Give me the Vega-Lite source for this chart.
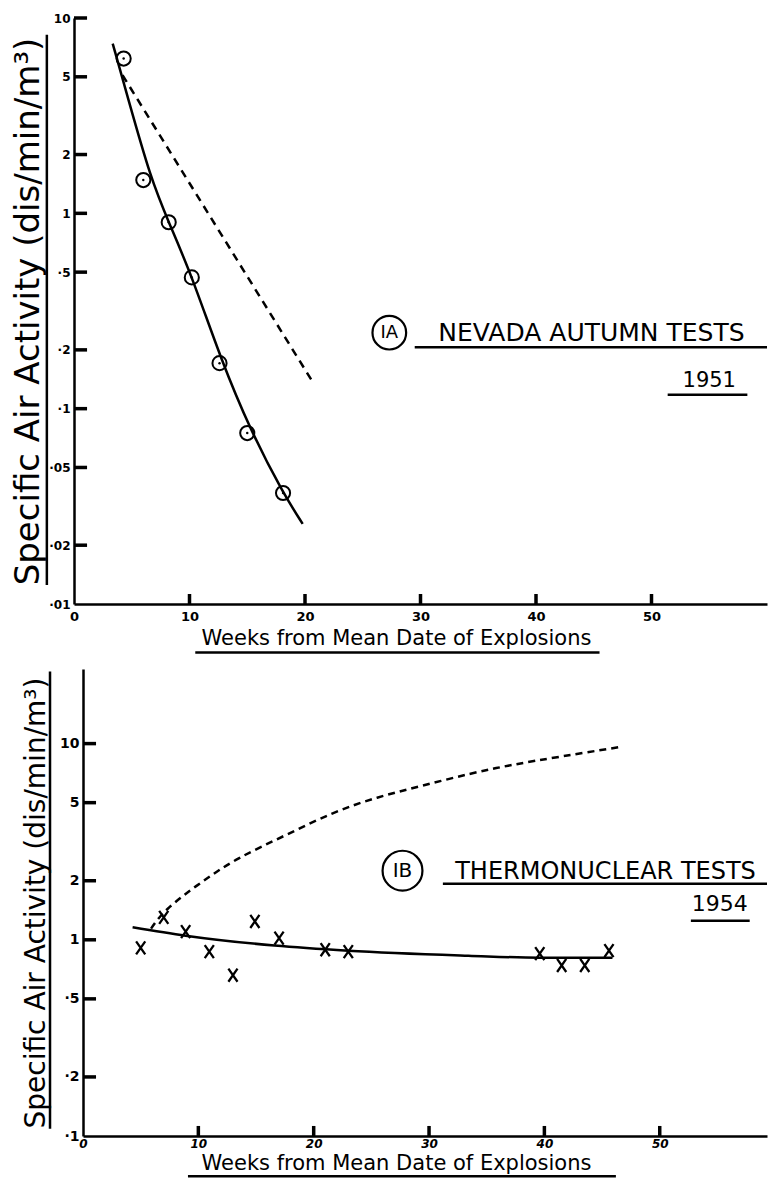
{
  "$schema": "https://vega.github.io/schema/vega-lite/v6.json",
  "background": "white",
  "padding": {"left": 11, "top": 12, "right": 0, "bottom": 0},
  "spacing": 15,
  "config": {
    "font": "DejaVu Sans",
    "view": {"stroke": null},
    "axis": {
      "grid": false,
      "ticks": false,
      "domainColor": "black",
      "domainWidth": 2.5,
      "labelColor": "black",
      "titleColor": "black",
      "labelFont": "DejaVu Sans",
      "titleFont": "DejaVu Sans",
      "labelFontWeight": "bold",
      "titleFontWeight": "normal",
      "labelFontSize": 12
    }
  },
  "datasets": {
    "fallout1951": [
      {"week": 4.3, "activity": 6.2},
      {"week": 6.0, "activity": 1.48},
      {"week": 8.2, "activity": 0.9},
      {"week": 10.2, "activity": 0.47},
      {"week": 12.6, "activity": 0.171},
      {"week": 15.0, "activity": 0.075},
      {"week": 18.1, "activity": 0.037}
    ],
    "fit1951": [
      {"week": 3.35, "activity": 7.4},
      {"week": 4.64, "activity": 3.95},
      {"week": 6.65, "activity": 1.5},
      {"week": 8.2, "activity": 0.9},
      {"week": 10.2, "activity": 0.48},
      {"week": 12.7, "activity": 0.18},
      {"week": 15.3, "activity": 0.077},
      {"week": 18.1, "activity": 0.037},
      {"week": 19.8, "activity": 0.0257}
    ],
    "decay1951": [
      {"week": 4.2, "activity": 5.1},
      {"week": 20.6, "activity": 0.139}
    ],
    "fallout1954": [
      {"week": 5.0, "activity": 0.91},
      {"week": 7.0, "activity": 1.3},
      {"week": 8.9, "activity": 1.1},
      {"week": 10.95, "activity": 0.87},
      {"week": 13.0, "activity": 0.66},
      {"week": 14.9, "activity": 1.24},
      {"week": 17.0, "activity": 1.02},
      {"week": 21.0, "activity": 0.89},
      {"week": 23.0, "activity": 0.87},
      {"week": 39.6, "activity": 0.85},
      {"week": 41.5, "activity": 0.74},
      {"week": 43.5, "activity": 0.74},
      {"week": 45.6, "activity": 0.88}
    ],
    "fit1954": [
      {"week": 4.3, "activity": 1.16},
      {"week": 8.9, "activity": 1.05},
      {"week": 16.6, "activity": 0.935},
      {"week": 23.0, "activity": 0.88},
      {"week": 33.4, "activity": 0.83},
      {"week": 39.6, "activity": 0.81},
      {"week": 45.9, "activity": 0.81}
    ],
    "expected1954": [
      {"week": 5.9, "activity": 1.14},
      {"week": 7.35, "activity": 1.44},
      {"week": 10.2, "activity": 1.95},
      {"week": 13.5, "activity": 2.6},
      {"week": 17.5, "activity": 3.4},
      {"week": 21.6, "activity": 4.4},
      {"week": 25.5, "activity": 5.3},
      {"week": 29.4, "activity": 6.1},
      {"week": 33.5, "activity": 7.0},
      {"week": 37.3, "activity": 7.8},
      {"week": 41.5, "activity": 8.6},
      {"week": 46.5, "activity": 9.6}
    ],
    "weekTicks": [
      {"week": 10}, {"week": 20}, {"week": 30}, {"week": 40}, {"week": 50}
    ],
    "activityTicks1951": [
      {"activity": 0.02}, {"activity": 0.05}, {"activity": 0.1}, {"activity": 0.2},
      {"activity": 0.5}, {"activity": 1}, {"activity": 2}, {"activity": 5}, {"activity": 10}
    ],
    "activityTicks1954": [
      {"activity": 0.2}, {"activity": 0.5}, {"activity": 1}, {"activity": 2},
      {"activity": 5}, {"activity": 10}
    ]
  },
  "vconcat": [
    {
      "width": 693,
      "height": 586,
      "layer": [
        {
          "data": {"name": "decay1951"},
          "mark": {"type": "line", "color": "black", "strokeWidth": 2.5, "strokeDash": [8, 6]},
          "encoding": {
            "x": {
              "field": "week", "type": "quantitative",
              "scale": {"domain": [0, 60], "nice": false, "zero": false},
              "axis": {
                "values": [0, 10, 20, 30, 40, 50],
                "labelPadding": 6,
                "labelFlush": false,
                "labelFontSize": 13,
                "title": "Weeks from Mean Date of Explosions",
                "titleFontSize": 21,
                "titleX": 322,
                "titleY": 23,
                "titleBaseline": "top"
              }
            },
            "y": {
              "field": "activity", "type": "quantitative",
              "scale": {"type": "log", "domain": [0.01, 10], "nice": false},
              "axis": {
                "values": [0.01, 0.02, 0.05, 0.1, 0.2, 0.5, 1, 2, 5, 10],
                "labelExpr": "datum.value >= 1 ? format(datum.value, 'd') : replace(format(datum.value, '.2~f'), '0.', '·')",
                "labelPadding": 4,
                "labelFlush": false,
                "labelOverlap": false,
                "title": "Specific Air Activity (dis/min/m³)",
                "titleFontSize": 34,
                "titlePadding": 3
              }
            }
          }
        },
        {
          "data": {"name": "weekTicks"},
          "mark": {"type": "rule", "color": "black", "strokeWidth": 3.5},
          "encoding": {
            "x": {"field": "week", "type": "quantitative"},
            "y": {"datum": 0.01},
            "y2": {"datum": 0.01125}
          }
        },
        {
          "data": {"name": "activityTicks1951"},
          "mark": {"type": "rule", "color": "black", "strokeWidth": 3.5},
          "encoding": {
            "y": {"field": "activity", "type": "quantitative"},
            "x": {"datum": 0},
            "x2": {"datum": 1.13}
          }
        },
        {
          "data": {"name": "fit1951"},
          "mark": {"type": "line", "color": "black", "strokeWidth": 2.5, "interpolate": "basis"},
          "encoding": {
            "x": {"field": "week", "type": "quantitative"},
            "y": {"field": "activity", "type": "quantitative"}
          }
        },
        {
          "data": {"name": "fallout1951"},
          "mark": {"type": "point", "shape": "circle", "size": 200, "filled": false, "color": "black", "strokeWidth": 2, "opacity": 1},
          "encoding": {
            "x": {"field": "week", "type": "quantitative"},
            "y": {"field": "activity", "type": "quantitative"}
          }
        },
        {
          "data": {"name": "fallout1951"},
          "mark": {"type": "point", "shape": "circle", "size": 6, "filled": true, "color": "black", "opacity": 1},
          "encoding": {
            "x": {"field": "week", "type": "quantitative"},
            "y": {"field": "activity", "type": "quantitative"}
          }
        },
        {
          "data": {"values": [{}]},
          "mark": {"type": "point", "shape": "circle", "size": 1134, "filled": false, "color": "black", "strokeWidth": 2.2, "opacity": 1},
          "encoding": {"x": {"datum": 27.3}, "y": {"datum": 0.245}}
        },
        {
          "data": {"values": [{}]},
          "mark": {"type": "text", "text": "IA", "fontSize": 18, "color": "black", "align": "center", "baseline": "middle"},
          "encoding": {"x": {"datum": 27.3}, "y": {"datum": 0.245}}
        },
        {
          "data": {"values": [{}]},
          "mark": {"type": "text", "text": "NEVADA AUTUMN TESTS", "fontSize": 25, "color": "black", "align": "center", "baseline": "middle"},
          "encoding": {"x": {"datum": 44.8}, "y": {"datum": 0.245}}
        },
        {
          "data": {"values": [{}]},
          "mark": {"type": "rule", "color": "black", "strokeWidth": 2.5},
          "encoding": {"x": {"datum": 29.5}, "x2": {"datum": 60}, "y": {"datum": 0.206}}
        },
        {
          "data": {"values": [{}]},
          "mark": {"type": "text", "text": "1951", "fontSize": 21, "color": "black", "align": "center", "baseline": "middle"},
          "encoding": {"x": {"datum": 55}, "y": {"datum": 0.138}}
        },
        {
          "data": {"values": [{}]},
          "mark": {"type": "rule", "color": "black", "strokeWidth": 2.5},
          "encoding": {"x": {"datum": 51.4}, "x2": {"datum": 58.3}, "y": {"datum": 0.118}}
        },
        {
          "data": {"values": [{}]},
          "mark": {"type": "rule", "color": "black", "strokeWidth": 2.5},
          "encoding": {"x": {"datum": 10.5}, "x2": {"datum": 45.5}, "y": {"datum": 0.00565}}
        },
        {
          "data": {"values": [{}]},
          "mark": {"type": "rule", "color": "black", "strokeWidth": 2.5},
          "encoding": {"x": {"datum": -2.35}, "y": {"datum": 0.0125}, "y2": {"datum": 8.2}}
        }
      ]
    },
    {
      "width": 693,
      "height": 467,
      "layer": [
        {
          "data": {"name": "expected1954"},
          "mark": {"type": "line", "color": "black", "strokeWidth": 2.5, "strokeDash": [7, 5], "interpolate": "natural"},
          "encoding": {
            "x": {
              "field": "week", "type": "quantitative",
              "scale": {"domain": [0, 59.3], "range": [9, 693], "nice": false, "zero": false},
              "axis": {
                "values": [0, 10, 20, 30, 40, 50],
                "labelPadding": 2,
                "labelFlush": false,
                "labelFontStyle": "italic",
                "labelFontSize": 12,
                "title": "Weeks from Mean Date of Explosions",
                "titleFontSize": 21,
                "titleX": 322,
                "titleY": 16,
                "titleBaseline": "top"
              }
            },
            "y": {
              "field": "activity", "type": "quantitative",
              "scale": {"type": "log", "domain": [0.1, 24], "nice": false},
              "axis": {
                "values": [0.1, 0.2, 0.5, 1, 2, 5, 10],
                "labelExpr": "datum.value >= 1 ? format(datum.value, 'd') : replace(format(datum.value, '.2~f'), '0.', '·')",
                "offset": -9,
                "labelPadding": 4,
                "labelFlush": false,
                "labelOverlap": false,
                "labelFontSize": 14,
                "title": "Specific Air Activity (dis/min/m³)",
                "titleFontSize": 28,
                "titlePadding": 9
              }
            }
          }
        },
        {
          "data": {"name": "weekTicks"},
          "mark": {"type": "rule", "color": "black", "strokeWidth": 3.5},
          "encoding": {
            "x": {"field": "week", "type": "quantitative"},
            "y": {"datum": 0.1},
            "y2": {"datum": 0.1125}
          }
        },
        {
          "data": {"name": "activityTicks1954"},
          "mark": {"type": "rule", "color": "black", "strokeWidth": 3.5},
          "encoding": {
            "y": {"field": "activity", "type": "quantitative"},
            "x": {"datum": 0},
            "x2": {"datum": 1.13}
          }
        },
        {
          "data": {"name": "fit1954"},
          "mark": {"type": "line", "color": "black", "strokeWidth": 2.5, "interpolate": "monotone"},
          "encoding": {
            "x": {"field": "week", "type": "quantitative"},
            "y": {"field": "activity", "type": "quantitative"}
          }
        },
        {
          "data": {"name": "fallout1954"},
          "mark": {"type": "point", "shape": "M-0.7,-1L0.7,1M-0.7,1L0.7,-1", "size": 170, "filled": false, "color": "black", "strokeWidth": 2.3, "opacity": 1},
          "encoding": {
            "x": {"field": "week", "type": "quantitative"},
            "y": {"field": "activity", "type": "quantitative"}
          }
        },
        {
          "data": {"values": [{}]},
          "mark": {"type": "point", "shape": "circle", "size": 1590, "filled": false, "color": "black", "strokeWidth": 2.2, "opacity": 1},
          "encoding": {"x": {"datum": 27.7}, "y": {"datum": 2.25}}
        },
        {
          "data": {"values": [{}]},
          "mark": {"type": "text", "text": "IB", "fontSize": 20, "color": "black", "align": "center", "baseline": "middle"},
          "encoding": {"x": {"datum": 27.7}, "y": {"datum": 2.25}}
        },
        {
          "data": {"values": [{}]},
          "mark": {"type": "text", "text": "THERMONUCLEAR TESTS", "fontSize": 24, "color": "black", "align": "center", "baseline": "middle"},
          "encoding": {"x": {"datum": 45.3}, "y": {"datum": 2.22}}
        },
        {
          "data": {"values": [{}]},
          "mark": {"type": "rule", "color": "black", "strokeWidth": 2.5},
          "encoding": {"x": {"datum": 31.2}, "x2": {"datum": 59.3}, "y": {"datum": 1.93}}
        },
        {
          "data": {"values": [{}]},
          "mark": {"type": "text", "text": "1954", "fontSize": 22, "color": "black", "align": "center", "baseline": "middle"},
          "encoding": {"x": {"datum": 55.2}, "y": {"datum": 1.52}}
        },
        {
          "data": {"values": [{}]},
          "mark": {"type": "rule", "color": "black", "strokeWidth": 2.5},
          "encoding": {"x": {"datum": 52.7}, "x2": {"datum": 57.8}, "y": {"datum": 1.25}}
        },
        {
          "data": {"values": [{}]},
          "mark": {"type": "rule", "color": "black", "strokeWidth": 2.5},
          "encoding": {"x": {"datum": 9.1}, "x2": {"datum": 46.2}, "y": {"datum": 0.0624}}
        },
        {
          "data": {"values": [{}]},
          "mark": {"type": "rule", "color": "black", "strokeWidth": 2.5},
          "encoding": {"x": {"datum": -2.86}, "y": {"datum": 0.109}, "y2": {"datum": 23.3}}
        }
      ]
    }
  ]
}
